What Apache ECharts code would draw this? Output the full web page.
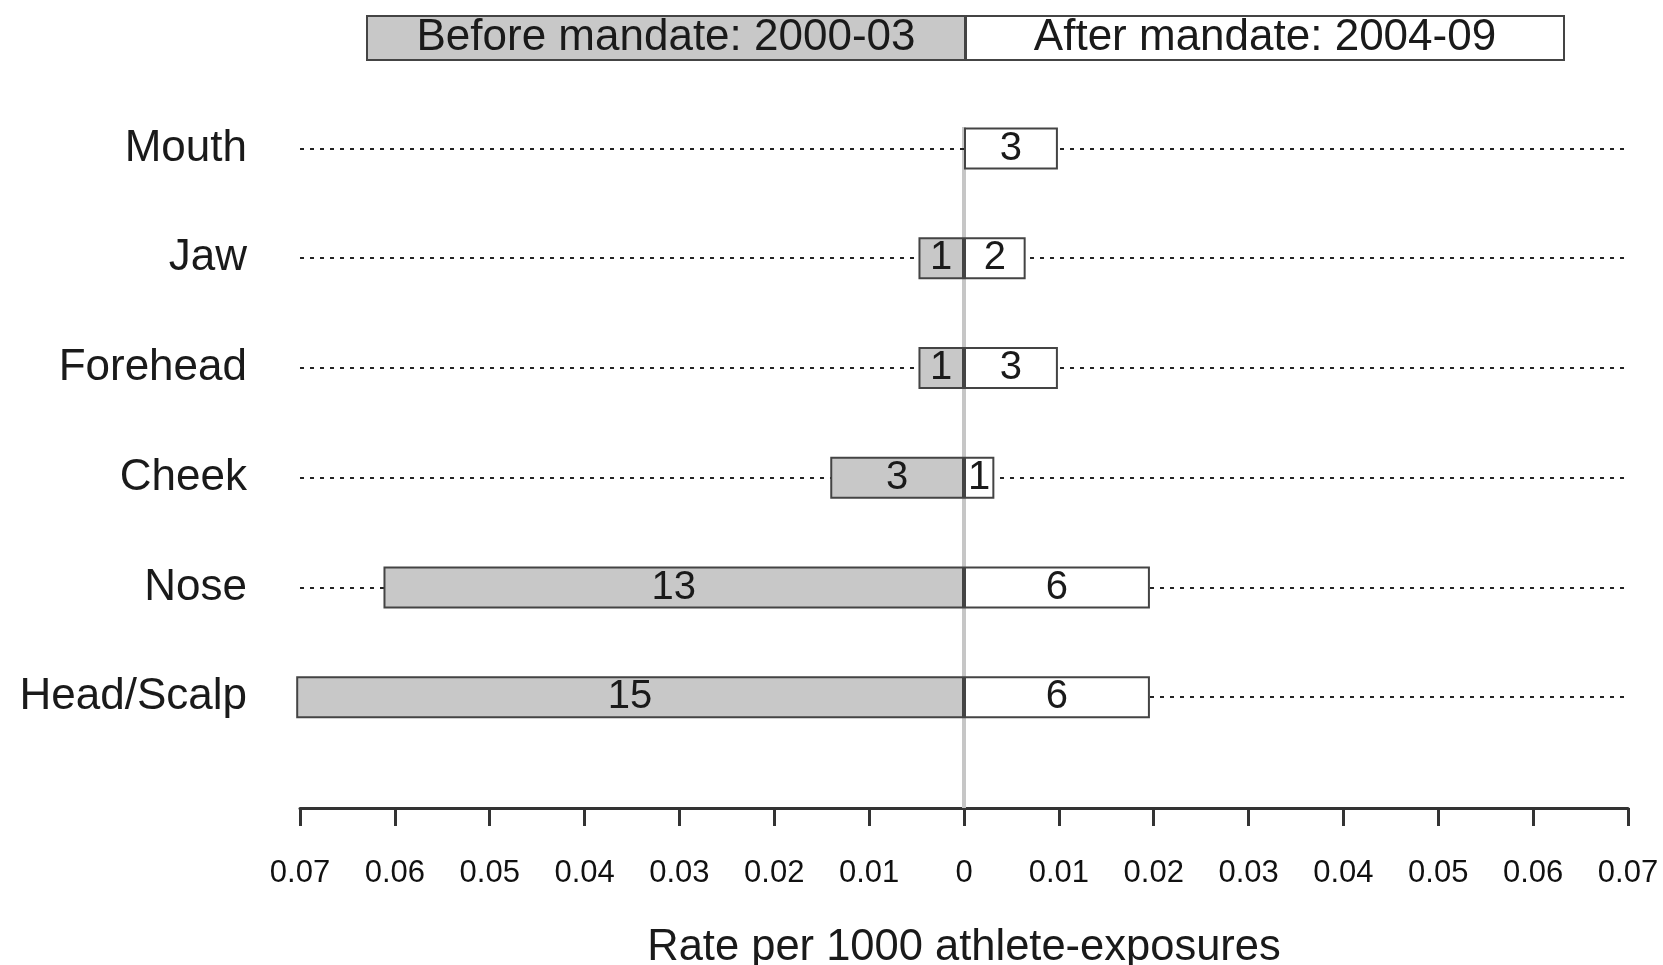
<!DOCTYPE html>
<html>
<head>
<meta charset="utf-8">
<script src="https://cdn.jsdelivr.net/npm/echarts@6/dist/echarts.min.js"></script>
<style>
html,body{margin:0;padding:0;background:#fff;}
#chart{width:1663px;height:965px;}
</style>
</head>
<body>
<div id="chart"></div>
<script>
// Categories, bottom to top
const categories = ['Head/Scalp', 'Nose', 'Cheek', 'Forehead', 'Jaw', 'Mouth'];
// Rates per 1000 athlete-exposures
const beforeRate = [0.0704, 0.0612, 0.0141, 0.0048, 0.0048, null];
const afterRate  = [0.0196, 0.0196, 0.0032, 0.0099, 0.0065, 0.0099];
// Injury counts shown inside the bars
const beforeCount = [15, 13, 3, 1, 1, null];
const afterCount  = [6, 6, 1, 3, 2, 3];
// Axis ticks
const axisMin = -0.07, axisMax = 0.07, axisStep = 0.01;
const beforeName = 'Before mandate: 2000-03';
const afterName = 'After mandate: 2004-09';
const axisTitle = 'Rate per 1000 athlete-exposures';

const FONT = "'Liberation Sans', Arial, Helvetica, sans-serif";
const chart = echarts.init(document.getElementById('chart'), null, {renderer: 'canvas'});

const legendBox = (bg) => ({
  width: 596, height: 42, lineHeight: 42, align: 'center',
  backgroundColor: bg, borderColor: '#444', borderWidth: 2,
  fontSize: 44, color: '#1a1a1a', fontFamily: FONT
});

const option = {
  backgroundColor: '#fff',
  animation: false,
  textStyle: {fontFamily: FONT},
  legend: {
    left: 357, top: 10,
    itemWidth: 0, itemHeight: 0, itemGap: -5,
    selectedMode: false,
    icon: 'rect',
    data: [beforeName, afterName],
    formatter: (name) => (name === beforeName ? '{b|' : '{a|') + name + '}',
    textStyle: {
      rich: {
        b: legendBox('#c8c8c8'),
        a: legendBox('#ffffff')
      }
    }
  },
  grid: [
    {left: 300, right: 35, top: 127, bottom: 157, outerBoundsMode: 'none', containLabel: false},
    {left: 300, right: 35, top: 93.6, bottom: 212.9, outerBoundsMode: 'none', containLabel: false}
  ],
  xAxis: [
    {
      gridIndex: 0, type: 'value', min: axisMin, max: axisMax, interval: axisStep,
      axisLine: {show: true, lineStyle: {color: '#333', width: 3}},
      axisTick: {show: true, length: 18, lineStyle: {color: '#333', width: 3}},
      splitLine: {show: false},
      axisLabel: {
        fontSize: 31, color: '#111', margin: 50, fontFamily: FONT,
        formatter: (v) => Math.abs(v) < 1e-9 ? '0' : Math.abs(v).toFixed(2)
      },
      name: axisTitle, nameLocation: 'middle', nameGap: 118,
      nameTextStyle: {fontSize: 43.5, color: '#1a1a1a', fontFamily: FONT}
    },
    {
      gridIndex: 1, type: 'value', min: axisMin, max: axisMax, interval: axisStep,
      show: false
    }
  ],
  yAxis: [
    {gridIndex: 0, type: 'value', min: 0, max: 1, show: false},
    {
      gridIndex: 1, type: 'category', data: categories,
      axisLine: {show: false}, axisTick: {show: false}, splitLine: {show: false},
      axisLabel: {fontSize: 44, color: '#1a1a1a', margin: 53, fontFamily: FONT}
    }
  ],
  series: [
    {
      name: 'zero', type: 'scatter', xAxisIndex: 0, yAxisIndex: 0, data: [],
      silent: true,
      markLine: {
        z: 1, symbol: 'none', silent: true, label: {show: false},
        lineStyle: {color: '#c6c6c6', width: 4, type: 'solid'},
        data: [{xAxis: 0}]
      }
    },
    {
      name: 'rows', type: 'scatter', xAxisIndex: 1, yAxisIndex: 1, data: [],
      silent: true,
      markLine: {
        z: 1, symbol: 'none', silent: true, label: {show: false},
        lineStyle: {color: '#222', width: 2, type: [4, 6]},
        data: categories.map(c => ({yAxis: c}))
      }
    },
    {
      name: beforeName, type: 'bar', xAxisIndex: 1, yAxisIndex: 1, z: 3,
      clip: false, barWidth: 42, barGap: '-100%',
      data: beforeRate.map(v => v == null ? null : -v),
      itemStyle: {color: '#c8c8c8', borderColor: '#444', borderWidth: 2},
      label: {
        show: true, position: 'inside', fontSize: 40, color: '#1a1a1a', fontFamily: FONT,
        formatter: (p) => beforeCount[p.dataIndex] == null ? '' : String(beforeCount[p.dataIndex])
      }
    },
    {
      name: afterName, type: 'bar', xAxisIndex: 1, yAxisIndex: 1, z: 3,
      clip: false, barWidth: 42, barGap: '-100%',
      data: afterRate,
      itemStyle: {color: '#ffffff', borderColor: '#444', borderWidth: 2},
      label: {
        show: true, position: 'inside', fontSize: 40, color: '#1a1a1a', fontFamily: FONT,
        formatter: (p) => String(afterCount[p.dataIndex])
      }
    }
  ]
};
chart.setOption(option);
</script>
</body>
</html>
